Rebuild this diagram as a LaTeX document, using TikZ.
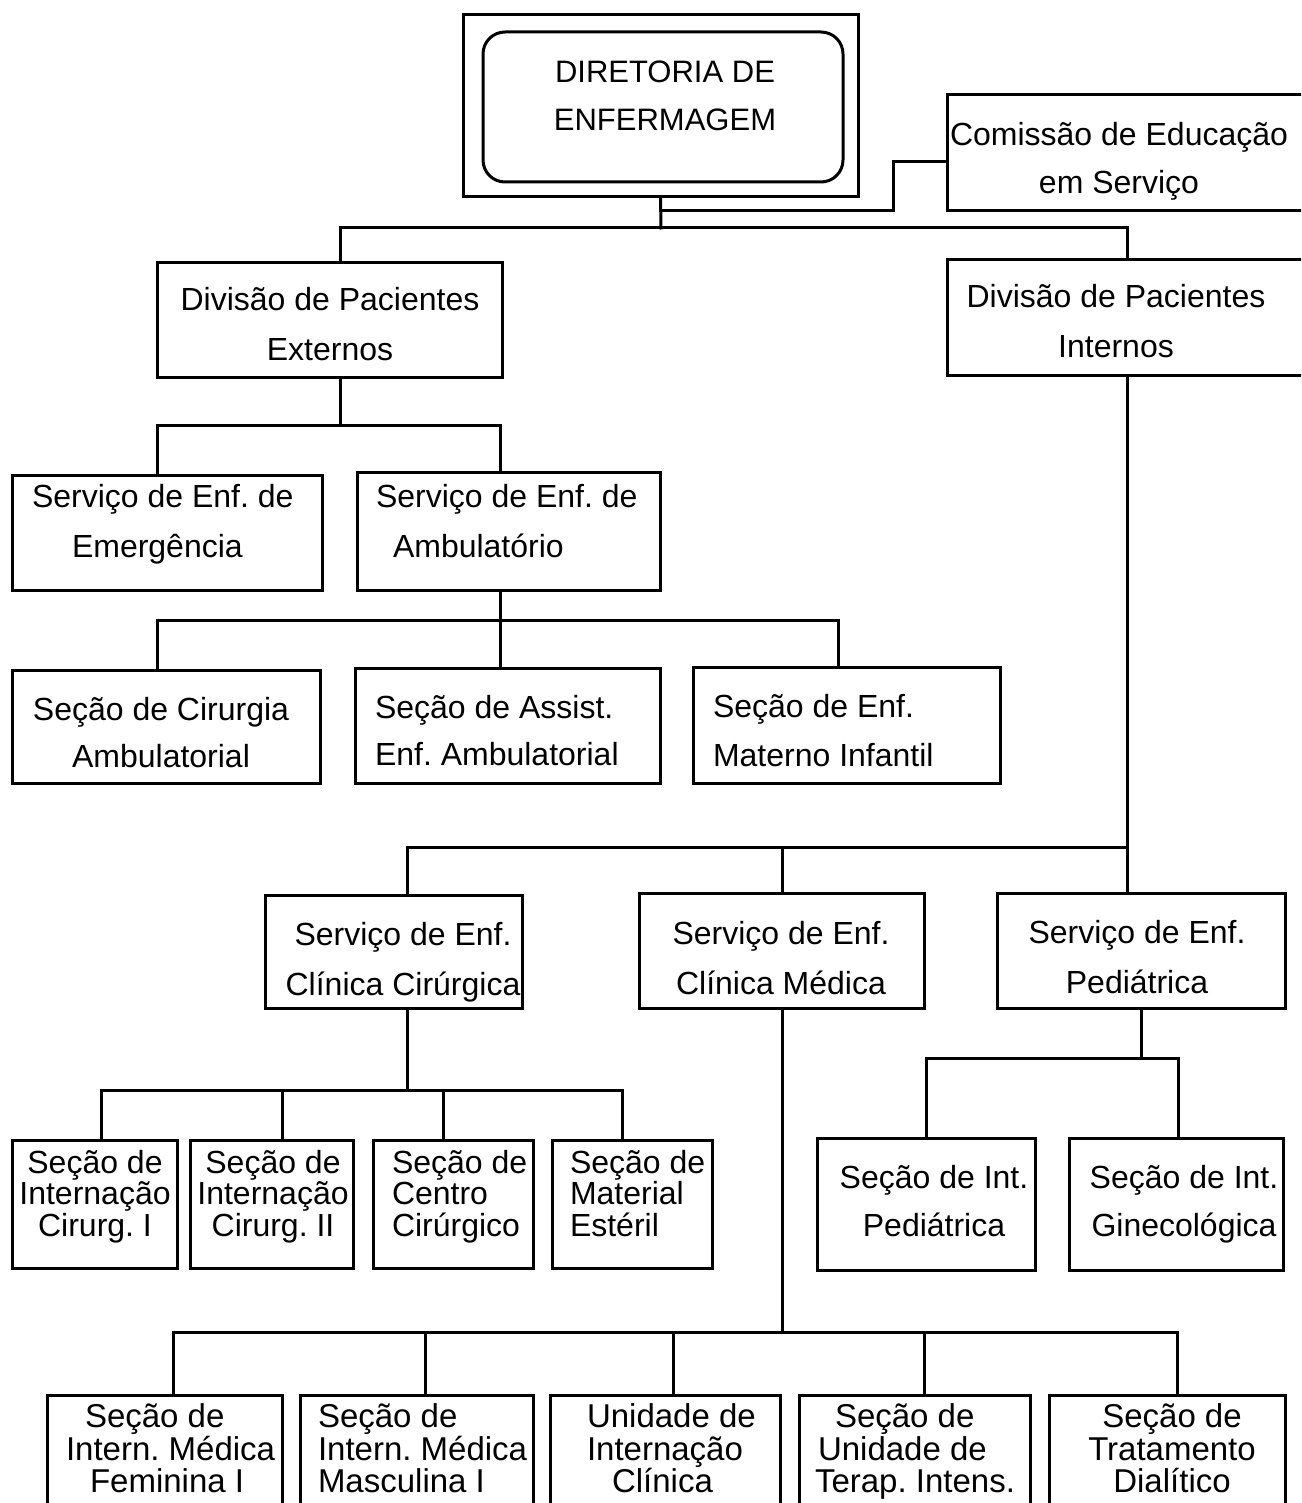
\documentclass[tikz,border=0pt]{standalone}
\usepackage{fontspec}
\setmainfont{Liberation Sans}
\frenchspacing
\begin{document}
\begin{tikzpicture}[x=1pt,y=-1pt,
  ln/.style={line width=3pt,line cap=rect},
  box/.style={draw,line width=3pt,rectangle,inner sep=0pt,outer sep=0pt},
  tx/.style={inner sep=0pt,outer sep=0pt,font=\fontsize{32}{49}\selectfont,execute at begin node={\frenchspacing\rule{0pt}{0.8em}}},
  txc/.style={tx,align=center,anchor=north},
  txl/.style={tx,align=left,anchor=north west},
  small/.style={font=\fontsize{32}{31.5}\selectfont},
  smallb/.style={font=\fontsize{33}{32.5}\selectfont}]
\clip (0,0) rectangle (1301,1503);
\fill[white] (0,0) rectangle (1301,1503);
% boxes
\node[box,minimum width=395,minimum height=182] (dirO) at (660.5,106) {};
\node[box,rounded corners=22pt,minimum width=360,minimum height=150] (dirI) at (663,107) {};
\node[box,minimum width=360,minimum height=116] (com) at (1127,153) {};
\node[box,minimum width=345,minimum height=114] (dpe) at (329.5,320) {};
\node[box,minimum width=360,minimum height=115] (dpi) at (1127,317.5) {};
\node[box,minimum width=310,minimum height=115] (see) at (167,532.5) {};
\node[box,minimum width=303,minimum height=118] (sea) at (508.5,531) {};
\node[box,minimum width=308,minimum height=113] (sca) at (166,726.5) {};
\node[box,minimum width=305,minimum height=115] (saea) at (507.5,725.5) {};
\node[box,minimum width=307,minimum height=116] (semi) at (846.5,725) {};
\node[box,minimum width=257,minimum height=113] (scc) at (393.5,951.5) {};
\node[box,minimum width=285,minimum height=115] (scm) at (782,950.5) {};
\node[box,minimum width=288,minimum height=115] (sp) at (1141,950.5) {};
\node[box,minimum width=165,minimum height=128] (b1) at (94.5,1204) {};
\node[box,minimum width=163,minimum height=128] (b2) at (271.5,1204) {};
\node[box,minimum width=160,minimum height=128] (b3) at (453,1204) {};
\node[box,minimum width=160,minimum height=128] (b4) at (632,1204) {};
\node[box,minimum width=218,minimum height=132] (sip) at (926,1204) {};
\node[box,minimum width=214,minimum height=132] (sig) at (1176,1204) {};
\node[box,minimum width=235,minimum height=130] (c1) at (164.5,1460) {};
\node[box,minimum width=233,minimum height=130] (c2) at (416.5,1460) {};
\node[box,minimum width=230,minimum height=130] (c3) at (665,1460) {};
\node[box,minimum width=231,minimum height=130] (c4) at (914.5,1460) {};
\node[box,minimum width=236,minimum height=130] (c5) at (1167,1460) {};
% texts
\node[txc,font=\fontsize{31}{48}\selectfont] (t-dir) at (665,61) {DIRETORIA DE\\ENFERMAGEM};
\node[txc,font=\fontsize{32}{48}\selectfont] (t-com) at (1119,122) {Comissão de Educação\\em Serviço};
\node[txc,font=\fontsize{32}{50}\selectfont] (t-dpe) at (330,287) {Divisão de Pacientes\\Externos};
\node[txc,font=\fontsize{32}{50}\selectfont] (t-dpi) at (1116,284) {Divisão de Pacientes\\Internos};
\node[txl,font=\fontsize{32}{50}\selectfont] (t-see) at (32,484) {Serviço de Enf. de\\\hspace*{40pt}Emergência};
\node[txl,font=\fontsize{32}{50}\selectfont] (t-sea) at (376,484) {Serviço de Enf. de\\\hspace*{17pt}Ambulatório};
\node[txc,font=\fontsize{32}{47}\selectfont] (t-sca) at (161,697) {Seção de Cirurgia\\Ambulatorial};
\node[txl,font=\fontsize{32}{47}\selectfont] (t-saea) at (375,695) {Seção de Assist.\\Enf. Ambulatorial};
\node[txl,font=\fontsize{32}{49}\selectfont] (t-semi) at (713,694) {Seção de Enf.\\Materno Infantil};
\node[txc,font=\fontsize{32}{50}\selectfont] (t-scc) at (403,922) {Serviço de Enf.\\Clínica Cirúrgica};
\node[txc,font=\fontsize{32}{50}\selectfont] (t-scm) at (781,921) {Serviço de Enf.\\Clínica Médica};
\node[txc,font=\fontsize{32}{50}\selectfont] (t-sp) at (1137,920) {Serviço de Enf.\\Pediátrica};
\node[txc,small] (t-b1) at (95,1150) {Seção de\\Internação\\Cirurg. I};
\node[txc,small] (t-b2) at (273,1150) {Seção de\\Internação\\Cirurg. II};
\node[txl,small] (t-b3) at (392,1150) {Seção de\\Centro\\Cirúrgico};
\node[txl,small] (t-b4) at (570,1150) {Seção de\\Material\\Estéril};
\node[txc,font=\fontsize{32}{48}\selectfont] (t-sip) at (934,1165) {Seção de Int.\\Pediátrica};
\node[txc,font=\fontsize{32}{48}\selectfont] (t-sig) at (1184,1165) {Seção de Int.\\Ginecológica};
\node[txl,smallb] (t-c1) at (66,1404) {\hspace*{19pt}Seção de\\Intern. Médica\\\hspace*{24pt}Feminina I};
\node[txl,smallb] (t-c2) at (318,1404) {Seção de\\Intern. Médica\\Masculina I};
\node[txl,smallb] (t-c3) at (587,1404) {Unidade de\\Internação\\\hspace*{25pt}Clínica};
\node[txl,smallb] (t-c4) at (815,1404) {\hspace*{20pt}Seção de\\\hspace*{3pt}Unidade de\\Terap. Intens.};
\node[txc,smallb] (t-c5) at (1172,1404) {Seção de\\Tratamento\\Dialítico};
% junctions
\coordinate (j0) at (661,228);
\coordinate (k1) at (893,211);
\coordinate (k2) at (661,211);
\coordinate (j1) at (340,425);
\coordinate (j2) at (500,620);
\coordinate (j3) at (1127,847);
\coordinate (j4) at (407,1090);
\coordinate (j5) at (1141,1058);
\coordinate (j6) at (782,1332);
% connectors
\draw[ln] (dirO.south) -- (j0);
\draw[ln] ([xshift=10.5]dpe.north) |- (j0) -| (dpi.north);
\draw[ln] ([yshift=-9]com.west) -| (k1) -- (k2);
\draw[ln] ([xshift=10.5]dpe.south) -- (j1);
\draw[ln] ([xshift=-10]see.north) |- (j1) -| ([xshift=-8.5]sea.north);
\draw[ln] ([xshift=-8.5]sea.south) -- (j2);
\draw[ln] ([xshift=-9]sca.north) |- (j2) -| ([xshift=-8.5]semi.north);
\draw[ln] (j2) -- ([xshift=-7.5]saea.north);
\draw[ln] (dpi.south) -- (j3);
\draw[ln] ([xshift=13.5]scc.north) |- (j3) -- ([xshift=-14]sp.north);
\draw[ln] (scm.north) -- (scm.north |- j3);
\draw[ln] ([xshift=13.5]scc.south) -- (j4);
\draw[ln] ([xshift=6.5]b1.north) |- (j4) -| ([xshift=-10]b4.north);
\draw[ln] ([xshift=10.5]b2.north) -- ([xshift=10.5]b2.north |- j4);
\draw[ln] ([xshift=-10]b3.north) -- ([xshift=-10]b3.north |- j4);
\draw[ln] (sp.south) -- (j5);
\draw[ln] (sip.north) |- (j5) -| ([xshift=2]sig.north);
\draw[ln] (scm.south) -- (j6);
\draw[ln] ([xshift=8.5]c1.north) |- (j6) -| ([xshift=10]c5.north);
\draw[ln] ([xshift=8.5]c2.north) -- ([xshift=8.5]c2.north |- j6);
\draw[ln] ([xshift=8]c3.north) -- ([xshift=8]c3.north |- j6);
\draw[ln] ([xshift=9.5]c4.north) -- ([xshift=9.5]c4.north |- j6);
\end{tikzpicture}
\end{document}
